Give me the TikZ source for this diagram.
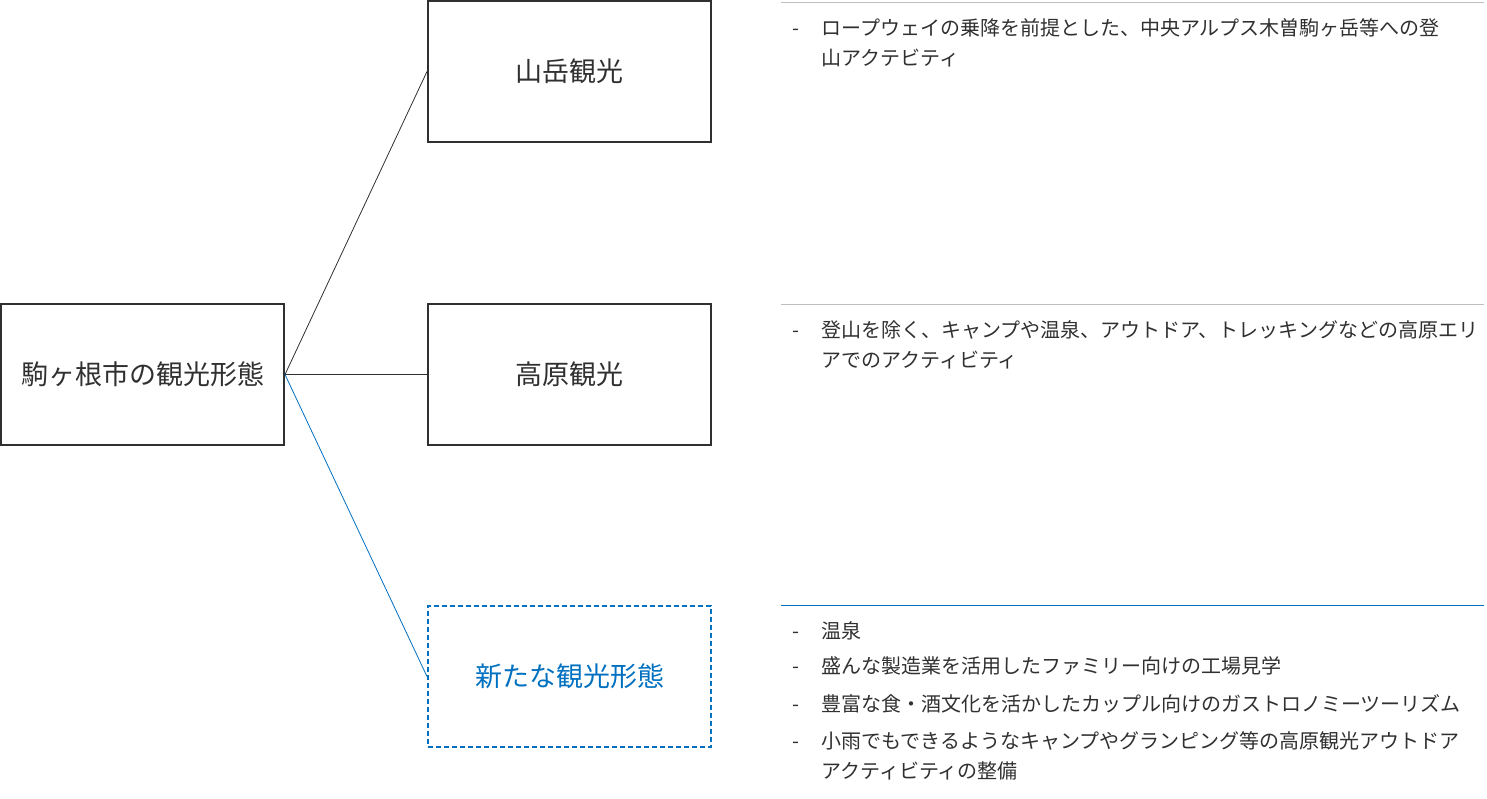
\documentclass[tikz,border=0pt]{standalone}
\usepackage{fontspec}
\setmainfont{Noto Sans CJK JP}
\definecolor{boxc}{HTML}{303030}
\definecolor{txt}{HTML}{303030}
\definecolor{blu}{HTML}{0070C0}
\definecolor{grayl}{HTML}{BFBFBF}
\begin{document}
\begin{tikzpicture}[x=1pt,y=-1pt,
  box/.style={draw=boxc, line width=2pt, minimum width=283pt, minimum height=141pt, inner sep=0pt, font=\fontsize{27}{30}\selectfont, text=txt, anchor=north west},
  newbox/.style={box, draw=blu, dash pattern=on 5pt off 3pt, text=blu},
  conn/.style={draw=boxc, line width=0.8pt},
  newconn/.style={draw=blu, line width=0.8pt},
  sepline/.style={draw=grayl, line width=1pt},
  newsep/.style={draw=blu, line width=1pt},
  item/.style={anchor=base west, inner sep=0pt, font=\fontsize{20}{30}\selectfont, text=txt}]
\useasboundingbox (0,0) rectangle (1487,798);

% boxes
\node[box] (root) at (0,303) {駒ヶ根市の観光形態};
\node[box] (b1) at (427,0) {山岳観光};
\node[box] (b2) at (427,303) {高原観光};
\node[newbox] (b3) at (427,605) {新たな観光形態};

% connectors
\draw[conn] (root.east) -- (b1.west);
\draw[conn] (root.east) -- (b2.west);
\draw[newconn] (root.east) -- (b3.west);

% separator lines
\coordinate (s1a) at (781,2);   \coordinate (s1b) at (1484,2);
\coordinate (s2a) at (781,304); \coordinate (s2b) at (1484,304);
\coordinate (s3a) at (781,605); \coordinate (s3b) at (1484,605);
\draw[sepline] (s1a) -- (s1b);
\draw[sepline] (s2a) -- (s2b);
\draw[newsep] (s3a) -- (s3b);

% item 1
\node[item] (d1) at (792,35) {-};
\node[item] (t1a) at (821,35) {ロープウェイの乗降を前提とした、中央アルプス木曽駒ヶ岳等への登};
\node[item] (t1b) at (821,65) {山アクテビティ};

% item 2
\node[item] (d2) at (792,337) {-};
\node[item] (t2a) at (821,337) {登山を除く、キャンプや温泉、アウトドア、トレッキングなどの高原エリ};
\node[item] (t2b) at (821,367) {アでのアクティビティ};

% item 3
\node[item] (d3) at (792,638) {-};
\node[item] (t3) at (821,638) {温泉};
\node[item] (d4) at (792,673) {-};
\node[item] (t4) at (821,673) {盛んな製造業を活用したファミリー向けの工場見学};
\node[item] (d5) at (792,711) {-};
\node[item] (t5) at (821,711) {豊富な食・酒文化を活かしたカップル向けのガストロノミーツーリズム};
\node[item] (d6) at (792,748) {-};
\node[item] (t6a) at (821,748) {小雨でもできるようなキャンプやグランピング等の高原観光アウトドア};
\node[item] (t6b) at (821,778) {アクティビティの整備};
\end{tikzpicture}
\end{document}
